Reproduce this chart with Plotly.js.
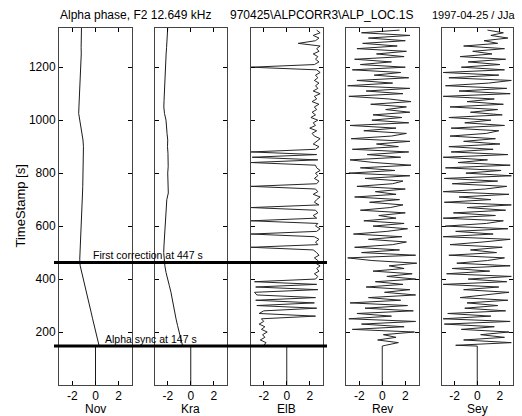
<!DOCTYPE html>
<html><head><meta charset="utf-8">
<script src="https://cdn.plot.ly/plotly-3.0.1.min.js"></script>
<style>html,body{margin:0;padding:0;background:#fff}#chart{width:522px;height:416px}</style>
</head><body><div id="chart"></div>
<script>
// ---- data ----
const stations = ['Nov', 'Kra', 'ElB', 'Rev', 'Sey'];
const yTicks = [200, 400, 600, 800, 1000, 1200];
const xTicks = [-2, 0, 2];
const xTickText = ['-2', '0', '2'];

// before the alpha sync the phase is held at 0
const preSyncTime = [0, 147];
const preSyncValue = [0, 0];

// smooth drifting stations, sampled every 25 s
const smoothTime = [
  150, 175, 200, 225, 250, 275, 300, 325,
  350, 375, 400, 425, 450, 475, 500, 525,
  550, 575, 600, 625, 650, 675, 700, 725,
  750, 775, 800, 825, 850, 875, 900, 925,
  950, 975, 1000, 1025, 1050, 1075, 1100, 1125,
  1150, 1175, 1200, 1225, 1250, 1275, 1300, 1325,
  1350
];
const novPhase = [
  0.30, 0.15, 0.02, -0.12, -0.25, -0.38, -0.52, -0.65,
  -0.78, -0.92, -1.05, -1.18, -1.32, -1.36, -1.33, -1.30,
  -1.29, -1.27, -1.25, -1.20, -1.17, -1.15, -1.11, -1.12,
  -1.10, -1.09, -1.08, -1.06, -1.04, -1.02, -1.04, -1.08,
  -1.18, -1.30, -1.36, -1.45, -1.43, -1.40, -1.36, -1.32,
  -1.29, -1.27, -1.25, -1.24, -1.23, -1.24, -1.23, -1.22,
  -1.21
];
const kraPhase = [
  -0.72, -0.88, -1.04, -1.15, -1.28, -1.38, -1.48, -1.58,
  -1.72, -1.86, -2.02, -2.15, -2.25, -2.30, -2.35, -2.33,
  -2.30, -2.28, -2.26, -2.22, -2.16, -2.14, -2.08, -1.95,
  -1.98, -2.02, -2.00, -1.96, -1.94, -1.98, -2.02, -2.00,
  -2.06, -2.10, -2.15, -2.28, -2.34, -2.32, -2.30, -2.29,
  -2.25, -2.22, -2.20, -2.17, -2.14, -2.10, -2.06, -2.03,
  -2.00
];

// noisy stations, sampled every 10 s from 150 s
const noisyStart = 150, noisyStep = 10;
const elbPhase = [
  -2.0, -1.8, -2.3, -1.9, -2.1, -1.7, -2.2, -1.9, -2.4, -2.0,
  -2.2, 2.5, -2.4, -2.0, 2.6, -2.6, 2.4, -2.7, 2.5, -2.6,
  -2.8, 2.7, -2.7, 2.6, -2.8, 2.5, 2.7, 2.4, 2.8, 2.6,
  2.9, 2.5, 2.7, 2.4, 2.8, 2.6, 2.3, -3.1, 2.7, 2.5,
  2.8, 2.4, -3.1, 2.6, 2.9, 2.5, 2.7, -3.1, 2.6, 2.3,
  2.7, 2.5, -3.1, 2.8, 2.4, 2.6, 2.9, 2.3, 2.7, 2.5,
  -3.1, 2.6, 2.8, 2.4, 2.7, 2.5, 2.9, 2.6, 2.5, -3.1,
  2.7, -3.0, 2.6, -3.1, 2.5, 2.8, 2.3, 2.6, 2.9, 2.4,
  2.2, 2.6, 2.0, 2.5, 2.3, 2.7, 2.1, 2.5, 2.2, 2.6,
  2.4, 2.8, 2.2, 2.6, 2.4, 2.9, 2.3, 2.7, 2.5, 2.8,
  2.4, 2.7, 2.5, 2.9, 2.6, -3.1, 2.4, 2.8, 2.5, 2.7,
  2.3, 2.8, 2.6, 2.9, 1.0, 2.5, 2.8, 2.3, 2.9, 2.6
];
const revPhase = [
  0.3, 1.4, -0.4, 1.2, 0.1, 2.8, -2.6, 1.9, -1.8, 2.9,
  -2.9, 0.8, -2.2, 2.7, -1.5, 2.2, -2.8, 1.6, -1.2, 2.9,
  0.2, 2.4, -1.4, 1.8, -0.6, 2.9, 0.4, 2.6, -0.8, 1.9,
  0.6, 3.0, -0.9, -3.0, 2.9, -1.8, 1.5, -2.4, 0.9, 2.1,
  -1.2, 1.7, -2.5, 0.4, 2.2, -0.8, 1.9, -1.6, 1.2, -0.3,
  2.0, -1.9, 0.7, 1.8, -1.1, 1.5, -2.4, 1.2, -0.6, 2.0,
  -2.2, 0.9, 1.8, -1.5, 2.4, -2.9, 1.1, -1.9, 2.5, -0.7,
  -2.8, 1.6, -1.3, 2.3, -2.6, 1.4, -0.5, 2.4, -2.7, 0.8,
  2.1, -1.6, 1.2, -2.8, 2.3, -0.9, 1.7, -0.8, 2.4, 0.3,
  2.1, -1.0, 2.5, 0.6, -2.9, 1.8, -1.4, 2.4, -3.0, 0.9,
  -2.2, 2.3, -0.7, 1.6, -2.6, 2.0, -1.9, 0.8, -2.4, 1.9,
  -0.5, 2.1, -2.2, 1.3, -1.7, 2.0, -1.2, 2.4, -1.8, 1.5
];
const seyPhase = [
  -1.9, 3.0, -1.2, 2.4, 0.3, 2.8, -1.4, 1.5, -2.9, 2.9,
  -3.0, 1.2, -2.6, 2.5, -1.1, 1.8, -0.9, 2.7, -1.5, 0.6,
  2.8, -1.2, 1.9, -3.0, 2.6, -0.8, 3.0, -2.7, 1.1, -2.2,
  2.9, -1.8, 0.9, 2.4, -2.5, 1.7, -0.6, 2.2, -2.4, 0.5,
  2.9, -3.0, 1.4, -1.9, 2.7, -2.8, 0.8, 2.3, -3.0, 1.6,
  -2.1, 2.5, -0.9, 3.0, -2.9, 1.2, -1.6, 2.8, -3.0, 0.7,
  2.6, -2.2, 1.8, -2.9, 3.0, -1.0, 2.1, -2.8, 2.9, -1.7,
  0.9, -3.0, 2.7, -2.3, 1.4, -2.5, 2.0, -1.2, 1.6, -2.4,
  0.8, 1.9, -2.3, 2.4, -1.1, 1.2, -2.5, 2.2, -0.6, 1.8,
  -2.4, 2.3, -0.9, 1.5, -3.0, 2.9, -1.6, 2.6, -2.8, 1.0,
  3.0, -2.5, 1.9, -3.0, 2.4, -1.4, 2.0, -0.8, 2.5, -1.5,
  1.3, -0.4, 2.4, -1.2, 1.8, 0.6, 2.7, 1.2, 2.3, 0.9
];

const markers = [
  {t: 463, label: 'First correction at 447 s'},
  {t: 147, label: 'Alpha sync at 147 s'}
];
const titleTexts = ['Alpha phase, F2 12.649 kHz', '970425\\ALPCORR3\\ALP_LOC.1S', '1997-04-25 / JJa'];
const yTitle = 'TimeStamp [s]';

// ---- build ----
const W = 522, H = 416;
const noisyTime = elbPhase.map((_, i) => noisyStart + i * noisyStep);
const seriesTime = [smoothTime, smoothTime, noisyTime, noisyTime, noisyTime];
const seriesVal = [novPhase, kraPhase, elbPhase, revPhase, seyPhase];
const xDomPx = [[59, 132], [154.5, 227], [250.5, 323], [346, 418.5], [441.5, 513]];
const yDom = [(H - 385) / H, (H - 28) / H];
const FONT = 'Liberation Sans, Arial, sans-serif';

const traces = [];
const layout = {
  width: W, height: H,
  margin: {l: 0, r: 0, t: 0, b: 0, pad: 0},
  paper_bgcolor: '#fff', plot_bgcolor: '#fff',
  showlegend: false,
  font: {family: FONT, size: 12, color: '#000'},
  shapes: [], annotations: []
};

stations.forEach((name, k) => {
  const n = k + 1;
  const xa = 'x' + (n === 1 ? '' : n), ya = 'y' + (n === 1 ? '' : n);
  traces.push({
    type: 'scatter', mode: 'lines',
    x: preSyncValue.concat(seriesVal[k]),
    y: preSyncTime.concat(seriesTime[k]),
    xaxis: xa, yaxis: ya,
    line: {color: k < 2 ? '#1a1a1a' : '#262626', width: 1},
    hoverinfo: 'skip'
  });
  layout['xaxis' + (n === 1 ? '' : n)] = {
    domain: [xDomPx[k][0] / W, xDomPx[k][1] / W],
    range: [-3.15, 3.15], anchor: ya,
    tickvals: xTicks, ticktext: xTickText,
    ticks: 'inside', ticklen: 4, tickcolor: '#000', tickwidth: 1,
    showline: true, linecolor: '#444', linewidth: 1, mirror: 'ticks',
    showgrid: false, zeroline: false, fixedrange: true,
    tickfont: {family: FONT, size: 12, color: '#000'}
  };
  layout['yaxis' + (n === 1 ? '' : n)] = {
    domain: yDom, range: [0, 1348], anchor: xa,
    tickvals: yTicks, showticklabels: n === 1,
    ticks: 'inside', ticklen: 4, tickcolor: '#000', tickwidth: 1,
    showline: true, linecolor: '#444', linewidth: 1, mirror: 'ticks',
    showgrid: false, zeroline: false, fixedrange: true,
    tickfont: {family: FONT, size: 12, color: '#000'}
  };
  layout.annotations.push({
    xref: xa, yref: 'paper', x: 0, y: (H - 409) / H,
    text: name, showarrow: false, xanchor: 'center', yanchor: 'middle',
    font: {family: FONT, size: 12, color: '#000'}
  });
});

markers.forEach((m, i) => {
  layout.shapes.push({
    type: 'line', xref: 'paper', yref: 'y',
    x0: 54 / W, x1: 327 / W, y0: m.t, y1: m.t,
    line: {color: '#000', width: 3}, layer: 'above'
  });
});
layout.annotations.push({
  xref: 'paper', yref: 'paper', x: 90.5 / W, y: (H - 255) / H,
  text: markers[0].label, showarrow: false, xanchor: 'left', yanchor: 'middle',
  font: {family: FONT, size: 10.5, color: '#000'}
});
layout.annotations.push({
  xref: 'paper', yref: 'paper', x: 103 / W, y: (H - 339) / H,
  text: markers[1].label, showarrow: false, xanchor: 'left', yanchor: 'middle',
  font: {family: FONT, size: 10.5, color: '#000'}
});

const titleX = [58, 228, 430];
const titleSize = [12, 12, 11];
titleTexts.forEach((t, i) => {
  layout.annotations.push({
    xref: 'paper', yref: 'paper', x: titleX[i] / W, y: (H - 15) / H,
    text: t, showarrow: false, xanchor: 'left', yanchor: 'middle',
    font: {family: FONT, size: titleSize[i], color: '#000'}
  });
});
layout.annotations.push({
  xref: 'paper', yref: 'paper', x: 20 / W, y: (H - 206.5) / H,
  text: yTitle, textangle: -90, showarrow: false, xanchor: 'center', yanchor: 'middle',
  font: {family: FONT, size: 13, color: '#000'}
});

Plotly.newPlot('chart', traces, layout, {staticPlot: true, displayModeBar: false});
</script></body></html>
